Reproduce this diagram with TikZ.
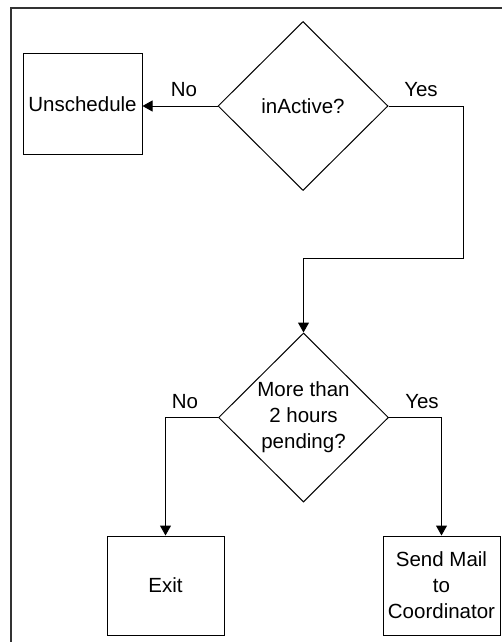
\documentclass[tikz,border=0pt]{standalone}
\usepackage{fontspec}
\setmainfont{Liberation Sans}
\usetikzlibrary{shapes.geometric, arrows.meta}

\begin{document}
\begin{tikzpicture}[x=1pt, y=-1pt,
    box/.style={draw, line width=1pt, rectangle, inner sep=0pt, align=center},
    decision/.style={draw, line width=1pt, diamond, inner sep=0pt, align=center,
        minimum width=170pt, minimum height=169pt},
    flow/.style={line width=1pt, -{Triangle[length=10pt, width=11pt]}},
    answer/.style={font=\fontsize{20.5}{26}\selectfont}]
        \useasboundingbox (0, 0) rectangle (502, 642);
        % Draw the open frame
        \draw[line width=1.3pt, black!80] (502, 8) -- (11, 8) -- (11, 642);

        % Draw the steps
        \node[decision, font=\fontsize{20.5}{26}\selectfont] (inactive) at (303, 106) {inActive?};
        \node[box, minimum width=119pt, minimum height=100pt, font=\fontsize{20.5}{26}\selectfont]
            (unschedule) at (82.5, 104) {Unschedule};
        \node[decision, font=\fontsize{20.5}{26}\selectfont] (pending) at (303.5, 417.5)
            {More than\\2 hours\\pending?};
        \node[box, minimum width=117pt, minimum height=99pt, font=\fontsize{20.5}{26}\selectfont]
            (exit) at (165.5, 585.5) {Exit};
        \node[box, minimum width=117pt, minimum height=99pt, font=\fontsize{20.5}{26}\selectfont]
            (mail) at (441.5, 585.5) {Send Mail\\to\\Coordinator};
        \coordinate (bend) at (463, 258);

        % Draw the flow
        \draw[flow] (inactive.west) -- (unschedule.east |- inactive.west);
        \draw[flow] (inactive.east) -| (bend) -| (pending.north);
        \draw[flow] (pending.west) -| (exit.north);
        \draw[flow] (pending.east) -| (mail.north);

        % Label the answers
        \node[answer] (no1) at (184, 90) {No};
        \node[answer] (yes1) at (421, 90) {Yes};
        \node[answer] (no2) at (185, 402) {No};
        \node[answer] (yes2) at (422, 402) {Yes};
    \end{tikzpicture}
\end{document}
